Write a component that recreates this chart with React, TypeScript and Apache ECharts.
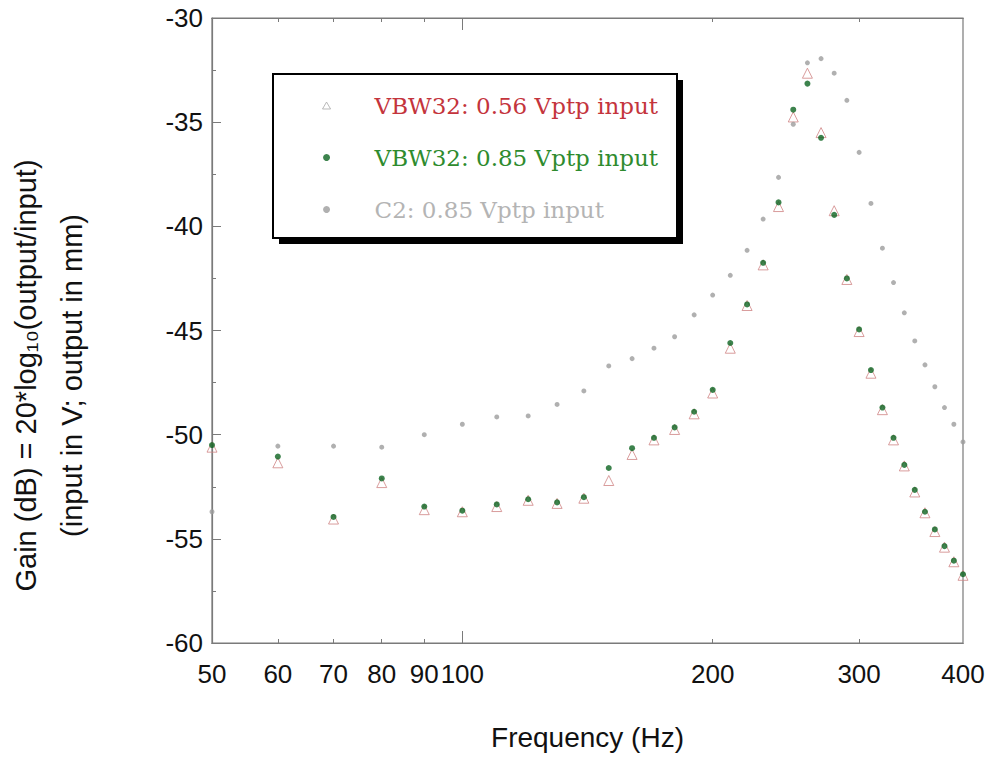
import React, { useEffect, useRef } from "react";
import * as echarts from "echarts";

const frequencies = [50, 60, 70, 80, 90, 100, 110, 120, 130, 140, 150, 160, 170, 180, 190, 200, 210, 220, 230, 240, 250, 260, 270, 280, 290, 300, 310, 320, 330, 340, 350, 360, 370, 380, 390, 400];

const vbw32Low = [-50.6, -51.35, -54.05, -52.3, -53.6, -53.7, -53.45, -53.15, -53.3, -53.05, -52.2, -50.95, -50.25, -49.75, -49.0, -48.0, -45.85, -43.8, -41.85, -39.05, -34.75, -32.65, -35.5, -39.25, -42.55, -45.05, -47.05, -48.8, -50.25, -51.5, -52.75, -53.75, -54.65, -55.4, -56.1, -56.75];

const vbw32High = [-50.5, -51.05, -53.95, -52.1, -53.45, -53.65, -53.35, -53.1, -53.25, -53.0, -51.6, -50.65, -50.15, -49.65, -48.9, -47.85, -45.6, -43.75, -41.75, -38.85, -34.4, -33.15, -35.75, -39.45, -42.5, -44.95, -46.9, -48.7, -50.15, -51.45, -52.65, -53.7, -54.55, -55.35, -56.05, -56.7];

const c2High = [-53.7, -50.55, -50.55, -50.6, -50.0, -49.5, -49.15, -49.1, -48.55, -47.9, -46.7, -46.35, -45.85, -45.3, -44.25, -43.3, -42.35, -41.15, -39.65, -37.65, -35.1, -32.15, -31.95, -32.65, -33.95, -36.45, -38.9, -41.05, -42.7, -44.15, -45.5, -46.65, -47.7, -48.7, -49.5, -50.35];

const xTickLabels = [50, 60, 70, 80, 90, 100, 200, 300, 400];
const xMinorTicks = [60, 70, 80, 90, 200, 300];
const xMajorTicks = [100];

const seriesNames = ["VBW32: 0.56 Vptp input", "VBW32: 0.85 Vptp input", "C2: 0.85 Vptp input"];

const pair = (ys: number[]) => frequencies.map((f, i) => [f, ys[i]]);

export default function App() {
  const ref = useRef<HTMLDivElement>(null);
  useEffect(() => {
    if (!ref.current) return;
    const chart = echarts.init(ref.current, undefined, { renderer: "svg" });
    const axisColor = "#7a7a7a";
    const baseX = {
      type: "log" as const,
      logBase: 10,
      min: 50,
      max: 400,
      splitLine: { show: false },
      axisLine: { show: true, lineStyle: { color: axisColor, width: 1.2 } },
    };
    chart.setOption({
      animation: false,
      backgroundColor: "#fff",
      grid: {
        left: 212,
        top: 18,
        right: 26,
        bottom: 124,
        show: true,
        borderColor: axisColor,
        borderWidth: 1.2,
        containLabel: false,
        outerBoundsMode: "none",
      },
      xAxis: [
        {
          ...baseX,
          position: "bottom",
          name: "Frequency (Hz)",
          nameLocation: "middle",
          nameGap: 80,
          nameTextStyle: { fontFamily: "Liberation Sans", fontSize: 28, color: "#111" },
          axisTick: { show: true, inside: true, length: 4, customValues: xMinorTicks, lineStyle: { color: axisColor } },
          axisLabel: {
            customValues: xTickLabels,
            margin: 18,
            fontFamily: "Liberation Sans",
            fontSize: 26,
            color: "#111",
            formatter: (v: number) => String(Math.round(v)),
          },
        },
        {
          ...baseX,
          position: "bottom",
          axisTick: { show: true, inside: true, length: 12, customValues: xMajorTicks, lineStyle: { color: axisColor } },
          axisLabel: { show: false },
        },
        {
          ...baseX,
          position: "top",
          axisTick: { show: true, inside: true, length: 4, customValues: xMinorTicks, lineStyle: { color: axisColor } },
          axisLabel: { show: false },
        },
        {
          ...baseX,
          position: "top",
          axisTick: { show: true, inside: true, length: 12, customValues: xMajorTicks, lineStyle: { color: axisColor } },
          axisLabel: { show: false },
        },
      ],
      yAxis: {
        type: "value",
        min: -60,
        max: -30,
        interval: 5,
        splitLine: { show: false },
        axisLine: { show: true, lineStyle: { color: axisColor, width: 1.2 } },
        axisTick: { show: true, inside: true, length: 9, lineStyle: { color: axisColor } },
        minorTick: { show: true, splitNumber: 2, length: 4, lineStyle: { color: axisColor } },
        axisLabel: { margin: 9, fontFamily: "Liberation Sans", fontSize: 26, color: "#111", padding: [12, 0, 0, 0] },
        name: "Gain (dB) = 20*log\u2081\u2080(output/input)\n(input in V; output in mm)",
        nameLocation: "middle",
        nameGap: 117,
        nameTextStyle: { fontFamily: "Liberation Sans", fontSize: 29, color: "#111", lineHeight: 46, padding: [0, 90, 0, 0] },
      },
      graphic: [
        { type: "rect", z: 3, shape: { x: 279, y: 80, width: 404, height: 164 }, style: { fill: "#000" } },
        { type: "rect", z: 3, shape: { x: 273, y: 74, width: 404, height: 164 }, style: { fill: "#fff", stroke: "#000", lineWidth: 2 } },
      ],
      legend: {
        orient: "vertical",
        left: 322,
        top: 94,
        z: 5,
        padding: 0,
        itemGap: 29,
        itemWidth: 86,
        itemHeight: 7,
        symbolKeepAspect: true,
        selectedMode: false,
        textStyle: { fontFamily: "DejaVu Serif", fontSize: 23 },
        data: [
          {
            name: seriesNames[0],
            icon: "path://M5,0L10,8.66L0,8.66Z",
            textStyle: { color: "#c4343c" },
            itemStyle: { color: "rgba(255,255,255,0)", borderColor: "#a9a9a9", borderWidth: 1 },
          },
          { name: seriesNames[1], textStyle: { color: "#2e8b2e" } },
          { name: seriesNames[2], textStyle: { color: "#b4b4b4" } },
        ],
      },
      series: [
        {
          name: seriesNames[0],
          type: "scatter",
          clip: false,
          symbol: "triangle",
          symbolSize: 10,
          itemStyle: { color: "rgba(255,255,255,0)", borderColor: "#d08585", borderWidth: 1 },
          data: pair(vbw32Low),
        },
        {
          name: seriesNames[1],
          type: "scatter",
          clip: false,
          symbol: "circle",
          symbolSize: 6,
          itemStyle: { color: "#0d6420" },
          data: pair(vbw32High),
        },
        {
          name: seriesNames[2],
          type: "scatter",
          clip: false,
          symbol: "circle",
          symbolSize: 5,
          itemStyle: { color: "#9c9c9c" },
          data: pair(c2High),
        },
      ],
    });
    return () => chart.dispose();
  }, []);
  return <div ref={ref} style={{ width: 989, height: 767, position: "absolute", left: 0, top: 0 }} />;
}
